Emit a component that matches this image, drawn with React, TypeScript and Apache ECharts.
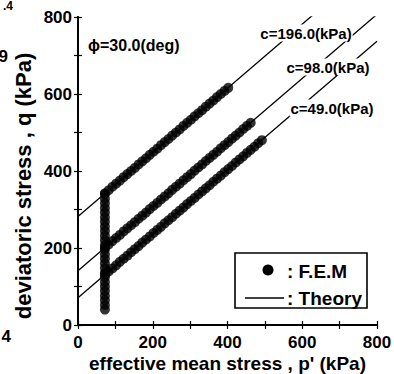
import { useEffect, useRef } from "react";
import * as echarts from "echarts";

// Friction angle and cohesions of the three cases
const phiDeg = 30.0;
const cohesions = [196.0, 98.0, 49.0];

// Theory (failure lines), end points in p' (kPa), q (kPa)
const theoryC196: [number, number][] = [[0, 282], [800, 948]];
const theoryC98: [number, number][] = [[0, 141], [800, 807]];
const theoryC49: [number, number][] = [[0, 71], [800, 737]];

// F.E.M: shared shear stage at constant p'
const femInitialP = 72;
const femShearQ = [40, 52, 64, 76, 88, 100, 112, 124, 136, 148, 160, 172, 184, 196, 208, 220, 232, 244, 256, 268, 280, 292, 304, 316, 328, 340];

// F.E.M: stress paths along each failure line
const femC196: [number, number][] = [
  [72, 342], [82, 350], [92, 359], [102, 367], [112, 375], [122, 384], [132, 392], [142, 400], [152, 408],
  [162, 417], [172, 425], [182, 433], [192, 442], [202, 450], [212, 458], [222, 467], [232, 475], [242, 483],
  [252, 492], [262, 500], [272, 508], [282, 517], [292, 525], [302, 533], [312, 542], [322, 550], [332, 558],
  [342, 567], [352, 575], [362, 583], [372, 592], [382, 600], [392, 608], [402, 616],
];
const femC98: [number, number][] = [
  [72, 201], [82, 209], [92, 218], [102, 226], [112, 234], [122, 243], [132, 251], [142, 259], [152, 267],
  [162, 276], [172, 284], [182, 292], [192, 301], [202, 309], [212, 317], [222, 326], [232, 334], [242, 342],
  [252, 351], [262, 359], [272, 367], [282, 376], [292, 384], [302, 392], [312, 401], [322, 409], [332, 417],
  [342, 426], [352, 434], [362, 442], [372, 450], [382, 459], [392, 467], [402, 475], [412, 484], [422, 492],
  [432, 500], [442, 509], [452, 517], [462, 525],
];
const femC49: [number, number][] = [
  [72, 131], [82, 139], [92, 147], [102, 155], [112, 164], [122, 172], [132, 180], [142, 189], [152, 197],
  [162, 205], [172, 214], [182, 222], [192, 230], [202, 239], [212, 247], [222, 255], [232, 264], [242, 272],
  [252, 280], [262, 289], [272, 297], [282, 305], [292, 314], [302, 322], [312, 330], [322, 339], [332, 347],
  [342, 355], [352, 363], [362, 372], [372, 380], [382, 388], [392, 397], [402, 405], [412, 413], [422, 422],
  [432, 430], [442, 438], [452, 447], [462, 455], [472, 463], [482, 472], [492, 480],
];

const FONT = "'Liberation Sans', Arial, Helvetica, sans-serif";

export default function App() {
  const ref = useRef<HTMLDivElement>(null);

  useEffect(() => {
    if (!ref.current) return;
    const chart = echarts.init(ref.current, undefined, { renderer: "svg" });

    const axisCommon = {
      min: 0,
      max: 800,
      interval: 200,
      axisLine: { show: true, lineStyle: { color: "#000", width: 1.8 } },
      axisTick: { show: true, inside: true, length: 4, lineStyle: { color: "#000", width: 1.2 } },
      minorTick: { show: true, splitNumber: 2, length: 4, lineStyle: { color: "#000", width: 1.2 } },
      splitLine: { show: false },
    };
    const labelStyle = { color: "#000", fontFamily: FONT, fontWeight: "bold" as const, fontSize: 17 };

    const theoryLine = (data: [number, number][]) => ({
      type: "line" as const,
      name: "Theory",
      data,
      symbol: "none",
      lineStyle: { color: "#000", width: 1.3 },
      z: 2,
    });
    const fem = (data: [number, number][]) => ({
      type: "scatter" as const,
      name: "F.E.M",
      data,
      symbol: "circle",
      symbolSize: 10,
      itemStyle: { color: "#000" },
      z: 3,
    });

    const cLabelPos = [
      [306, 33],
      [328, 67],
      [332, 108],
    ];

    chart.setOption({
      animation: false,
      backgroundColor: "#fff",
      grid: { left: 78, right: 17, top: 17, bottom: 49, outerBoundsMode: "none", containLabel: false },
      xAxis: [
        {
          ...axisCommon,
          type: "value",
          position: "bottom",
          axisLabel: { ...labelStyle, margin: 9 },
          name: "effective mean stress , p' (kPa)",
          nameLocation: "middle",
          nameGap: 28,
          nameMoveOverlap: false,
          nameTextStyle: { ...labelStyle, fontSize: 19, lineHeight: 20 },
        },
        {
          ...axisCommon,
          type: "value",
          position: "top",
          axisLabel: { show: false },
        },
      ],
      yAxis: [
        {
          ...axisCommon,
          type: "value",
          position: "left",
          axisLabel: { ...labelStyle, margin: 6 },
          name: "deviatoric stress , q (kPa)",
          nameLocation: "middle",
          nameGap: 44,
          nameMoveOverlap: false,
          nameTextStyle: { ...labelStyle, fontSize: 22, padding: [0, 30, 0, 0] },
        },
        {
          ...axisCommon,
          type: "value",
          position: "right",
          axisLabel: { show: false },
        },
      ],
      series: [
        theoryLine(theoryC196),
        theoryLine(theoryC98),
        theoryLine(theoryC49),
        fem(femShearQ.map((q) => [femInitialP, q] as [number, number])),
        fem(femC196),
        fem(femC98),
        fem(femC49),
      ],
      graphic: [
        ...cohesions.map((c, i) => ({
          type: "text",
          x: cLabelPos[i][0],
          y: cLabelPos[i][1],
          z: 100,
          style: {
            text: `c=${c.toFixed(1)}(kPa)`,
            fill: "#000",
            font: `bold 15px ${FONT}`,
            align: "center",
            verticalAlign: "middle",
            backgroundColor: "#fff",
            padding: [1, 1],
          },
        })),
        {
          type: "text",
          x: 88,
          y: 45,
          z: 100,
          style: {
            text: `ϕ=${phiDeg.toFixed(1)}(deg)`,
            fill: "#000",
            font: `bold 16px ${FONT}`,
            align: "left",
            verticalAlign: "middle",
          },
        },
        // legend box
        {
          type: "rect",
          z: 100,
          shape: { x: 235, y: 253, width: 132, height: 55 },
          style: { fill: "#fff", stroke: "#000", lineWidth: 1.6 },
        },
        {
          type: "circle",
          z: 101,
          shape: { cx: 268, cy: 270, r: 5.5 },
          style: { fill: "#000" },
        },
        {
          type: "line",
          z: 101,
          shape: { x1: 245, y1: 298, x2: 284, y2: 298 },
          style: { stroke: "#000", lineWidth: 1.5 },
        },
        {
          type: "text",
          x: 287,
          y: 271,
          z: 101,
          style: { text: ": F.E.M", fill: "#000", font: `bold 19px ${FONT}`, verticalAlign: "middle" },
        },
        {
          type: "text",
          x: 287,
          y: 298,
          z: 101,
          style: { text: ": Theory", fill: "#000", font: `bold 19px ${FONT}`, verticalAlign: "middle" },
        },
        // fragments of neighbouring panel text at the left edge
        {
          type: "text",
          x: 13,
          y: 0,
          z: 100,
          style: { text: ".4", fill: "#000", font: `bold 12px ${FONT}`, align: "right", verticalAlign: "top" },
        },
        {
          type: "text",
          x: 8,
          y: 56,
          z: 100,
          style: { text: "9", fill: "#000", font: `bold 17px ${FONT}`, align: "right", verticalAlign: "middle" },
        },
        {
          type: "text",
          x: 11,
          y: 336,
          z: 100,
          style: { text: "4", fill: "#000", font: `bold 17px ${FONT}`, align: "right", verticalAlign: "middle" },
        },
      ],
    });

    return () => chart.dispose();
  }, []);

  return (
    <div
      ref={ref}
      style={{ position: "fixed", left: 0, top: 0, width: 394, height: 374, background: "#fff" }}
    />
  );
}
